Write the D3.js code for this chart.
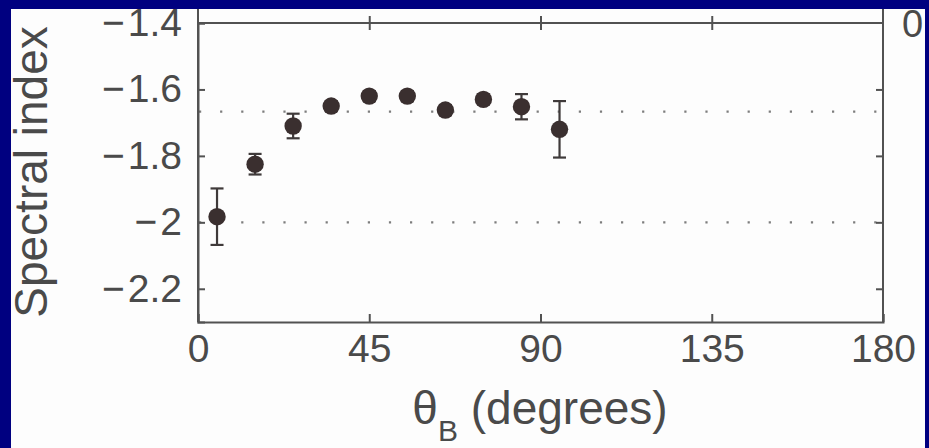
<!DOCTYPE html>
<html>
<head>
<meta charset="utf-8">
<script src="https://cdn.jsdelivr.net/npm/d3@7/dist/d3.min.js"></script>
<style>
  html, body { margin: 0; padding: 0; background: #000080; }
  svg { display: block; }
  text { font-family: "Liberation Sans", Arial, Helvetica, sans-serif; fill: #4a4a4a; }
</style>
</head>
<body>
<svg id="chart" width="929" height="448"></svg>
<script>
// ---- data ----
const thetaB = [5, 15, 25, 35, 45, 55, 65, 75, 85, 95];
const spectralIndex = [-1.983, -1.825, -1.710, -1.650, -1.620, -1.620, -1.662, -1.630, -1.652, -1.720];
const errors = [0.085, 0.031, 0.037, 0.015, 0.015, 0.015, 0.015, 0.015, 0.038, 0.085];
const referenceLevels = [-1.667, -2];
const xTicks = [0, 45, 90, 135, 180];
const yTicks = [-1.4, -1.6, -1.8, -2, -2.2];
const xDomain = [0, 180];
const yDomain = [-2.3, -1.4];

// ---- layout ----
const W = 929, H = 448;
const panel = { x: 11, y: 9, w: 914, h: 439 };
const plot = { left: 198, right: 883, top: 23, bottom: 322 };
const ink = "#525252";

const svg = d3.select("#chart");
svg.append("rect").attr("width", W).attr("height", H).attr("fill", "#000080");

svg.append("defs").append("clipPath").attr("id", "panelClip")
  .append("rect").attr("x", panel.x).attr("y", panel.y).attr("width", panel.w).attr("height", panel.h);

const g = svg.append("g").attr("clip-path", "url(#panelClip)");
g.append("rect").attr("x", panel.x).attr("y", panel.y).attr("width", panel.w).attr("height", panel.h)
  .attr("fill", "#fdfdfd");

const x = d3.scaleLinear().domain(xDomain).range([plot.left, plot.right]);
const y = d3.scaleLinear().domain(yDomain).range([plot.bottom, plot.top]);

// reference dotted lines
g.selectAll("line.ref").data(referenceLevels).join("line")
  .attr("class", "ref")
  .attr("x1", x(xDomain[0])).attr("x2", x(xDomain[1]))
  .attr("y1", d => y(d)).attr("y2", d => y(d))
  .attr("stroke", "#7d7d7d").attr("stroke-width", 2.2)
  .attr("stroke-dasharray", "2.2 18.9").attr("stroke-dashoffset", -1);

// frame: vertical sides extend up to the panel top
g.append("line").attr("x1", plot.left).attr("x2", plot.left).attr("y1", panel.y).attr("y2", plot.bottom)
  .attr("stroke", ink).attr("stroke-width", 2);
g.append("line").attr("x1", plot.right).attr("x2", plot.right).attr("y1", panel.y).attr("y2", plot.bottom)
  .attr("stroke", ink).attr("stroke-width", 2);
g.append("line").attr("x1", plot.left).attr("x2", plot.right).attr("y1", plot.top).attr("y2", plot.top)
  .attr("stroke", ink).attr("stroke-width", 2);

// bottom axis
const xAxis = g.append("g").attr("transform", `translate(0,${plot.bottom})`)
  .call(d3.axisBottom(x).tickValues(xTicks).tickFormat(d3.format("d")).tickSize(-8).tickPadding(12));
// left axis
const yAxis = g.append("g").attr("transform", `translate(${plot.left},0)`)
  .call(d3.axisLeft(y).tickValues(yTicks).tickFormat(d => String(Math.abs(d))).tickSize(-7).tickPadding(16));
// right axis ticks (no labels)
const yAxisR = g.append("g").attr("transform", `translate(${plot.right},0)`)
  .call(d3.axisRight(y).tickValues(yTicks.slice(1)).tickFormat("").tickSize(-7));
// top ticks crossing the top line
const xAxisT = g.append("g").attr("transform", `translate(0,${plot.top - 7})`)
  .call(d3.axisBottom(x).tickValues(xTicks.slice(1, -1)).tickFormat("").tickSize(14));

[xAxis, yAxis, yAxisR, xAxisT].forEach(a => {
  a.select(".domain").attr("stroke", ink).attr("stroke-width", 2);
  a.selectAll(".tick line").attr("stroke", ink).attr("stroke-width", 2);
  a.selectAll(".tick text").attr("fill", "#4a4a4a").style("font-size", "39px")
    .style("font-family", "'Liberation Sans', Arial, sans-serif");
});
// negative labels: minus sign set slightly apart from the digits
yAxis.selectAll(".tick text").each(function(d) {
  const t = d3.select(this);
  const digits = String(Math.abs(d));
  t.text(null);
  t.append("tspan").text("\u2212");
  t.append("tspan").attr("dx", 3).text(digits);
});
xAxisT.select(".domain").remove();
yAxisR.select(".domain").remove();

// error bars
const capW = 6.5;
const eb = g.append("g").attr("stroke", "#3f3a3a").attr("stroke-width", 2.2);
eb.selectAll("line.v").data(thetaB).join("line")
  .attr("x1", d => x(d)).attr("x2", d => x(d))
  .attr("y1", (d, i) => y(spectralIndex[i] - errors[i]))
  .attr("y2", (d, i) => y(spectralIndex[i] + errors[i]));
eb.selectAll("line.t").data(thetaB).join("line")
  .attr("x1", d => x(d) - capW).attr("x2", d => x(d) + capW)
  .attr("y1", (d, i) => y(spectralIndex[i] + errors[i]))
  .attr("y2", (d, i) => y(spectralIndex[i] + errors[i]));
eb.selectAll("line.b").data(thetaB).join("line")
  .attr("x1", d => x(d) - capW).attr("x2", d => x(d) + capW)
  .attr("y1", (d, i) => y(spectralIndex[i] - errors[i]))
  .attr("y2", (d, i) => y(spectralIndex[i] - errors[i]));

// markers
g.selectAll("circle.pt").data(thetaB).join("circle")
  .attr("class", "pt")
  .attr("cx", d => x(d)).attr("cy", (d, i) => y(spectralIndex[i]))
  .attr("r", 8.7).attr("fill", "#3a2f2f");

// y label
g.append("text")
  .attr("transform", "translate(47,172) rotate(-90)")
  .attr("text-anchor", "middle")
  .style("font-size", "46px")
  .text("Spectral index");

// x label with subscript
const xl = g.append("text").attr("x", 540).attr("y", 424).attr("text-anchor", "middle").style("font-size", "46px");
xl.append("tspan").text("\u03B8");
xl.append("tspan").attr("dy", 17).style("font-size", "30px").text("B");
xl.append("tspan").attr("dy", -17).text(" (degrees)");

// cut-off label from neighbouring panel (top right)
g.append("text").attr("x", 902).attr("y", 37).style("font-size", "38px").text("0");
</script>
</body>
</html>
